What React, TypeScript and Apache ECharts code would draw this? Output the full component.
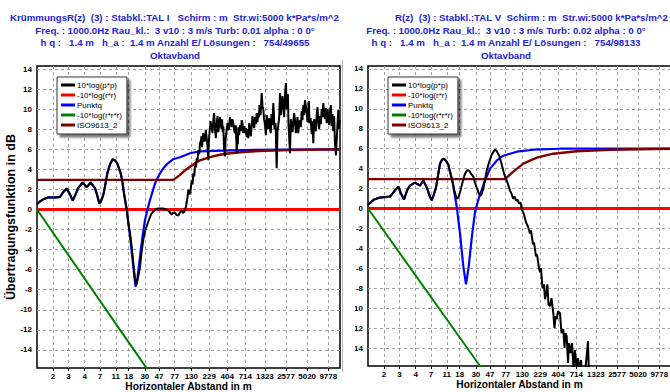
import React, { useEffect, useRef } from "react";
import * as echarts from "echarts";

type Pt = [number, number];

// ---------- axis data ----------
const X_TICK_LABELS = ["2", "3", "4", "7", "11", "18", "30", "47", "77", "130", "229", "404", "714", "1323", "2577", "5020", "9778"];
// distance (m) at which each labelled tick sits
const X_TICK_DIST = [1.66, 2.7, 4.5, 7.3, 12, 18, 30, 47, 77, 130, 229, 404, 714, 1323, 2577, 5020, 9778];
const Y_TICKS = [-14, -12, -10, -8, -6, -4, -2, 0, 2, 4, 6, 8, 10, 12, 14];
const X_RANGE = [1, 14140];
const Y_RANGE = [-15.8, 14.3];

const SERIES_NAMES = ["10*log(p*p)", "-10*log(r*r)", "Punktq", "-10*log(r*r*r)", "ISO9613_2"];
const SERIES_COLORS = ["#000000", "#ff0000", "#0000ff", "#008000", "#800000"];

const LEFT_TITLE = [
  "KrümmungsR(z)  (3) : Stabkl.:TAL I   Schirm : m  Str.wi:5000 k*Pa*s/m^2",
  "Freq. : 1000.0Hz Rau_kl.:  3 v10 : 3 m/s Turb: 0.01 alpha : 0 0°",
  "h q :   1.4 m   h_a :  1.4 m Anzahl E/ Lösungen :   754/49655",
  "Oktavband",
];
const RIGHT_TITLE = [
  "R(z)  (3) : Stabkl.:TAL V  Schirm : m  Str.wi:5000 k*Pa*s/m^2",
  "Freq. : 1000.0Hz Rau_kl.:  3 v10 : 3 m/s Turb: 0.02 alpha : 0 0°",
  "h q :   1.4 m   h_a :  1.4 m Anzahl E/ Lösungen :   754/98133",
  "Oktavband",
];

// ---------- left chart series: [distance m, dB] ----------
const LEFT_PP: Pt[] = [
  [1, 0.55], [1.1, 0.8], [1.247, 1.05], [1.415, 1.2], [1.605, 1.2], [1.822, 1.2], [2.066, 1.25], [2.271, 1.7],
  [2.552, 2.1], [2.788, 1.6], [3.084, 0.9], [3.369, 1.5], [3.645, 2.1], [4.227, 2.7], [4.795, 2.2], [5.439, 2.7],
  [6.23, 2.1], [6.636, 1.5], [7.131, 0.6], [7.524, 0.8], [8.089, 1.45], [8.54, 2.3], [9.182, 3.6], [10, 4.5],
  [10.89, 5.0], [11.71, 4.9], [12.59, 4.6], [14.02, 3.6], [14.83, 2.7], [15.55, 1.6], [16.93, 0], [17.92, -1.5],
  [18.79, -2.4], [20.01, -4.0], [20.98, -5.5], [22.0, -7.0], [23.07, -7.5], [23.8, -7.0], [24.96, -6.3], [25.76, -5.7],
  [27.01, -4.3], [28.58, -3.0], [30.64, -2.0], [33.47, -1.2], [36.44, -0.5], [39.18, -0.2], [42.67, 0.05], [45.87, 0.1],
  [49.95, 0.1], [53.7, 0.1], [58.49, 0.0], [62.88, -0.1], [66.35, -0.3], [70.01, -0.5], [74.09, -0.3], [77.68, -0.35],
  [81.96, -0.55], [86.19, -0.6], [90.95, -0.3], [95.96, -0.1], [99.97, -0.35], [104.8, -0.2], [109.9, 0.3], [115.2, 1.2],
  [118.2, 1.95], [122.0, 1.5], [125.9, 1.7], [131.6, 2.9], [134.9, 2.5], [138.4, 3.6], [142.4, 3.3], [146, 4.4],
  [150.7, 4.2], [154, 5.1], [158, 4.9], [162, 5.9], [166.6, 5.5], [170.9, 6.6], [176.4, 6.9], [179, 7.3],
  [182, 6.2], [186, 7.0], [189.6, 7.6], [195, 6.8], [200.1, 6.9], [205, 7.9], [209.8, 7.3], [216, 6.4],
  [222, 4.9], [225.5, 6.6], [229.2, 7.4], [238, 8.8], [247.2, 8.2], [253.5, 7.6], [260, 8.9], [267, 9.6],
  [274.3, 8.0], [281.8, 7.1], [289.4, 8.5], [296.8, 9.3], [304.4, 7.7], [312.6, 8.4], [321.1, 9.2], [328.8, 8.5],
  [336.7, 8.0], [343, 9.0], [349.6, 7.7], [357, 8.3], [364.3, 6.2], [376, 5.3], [382, 6.8], [388.1, 7.4],
  [397.4, 8.0], [406.8, 8.6], [423, 7.9], [440.2, 9.2], [450.8, 8.7], [461.6, 8.2], [474.8, 9.0], [488.4, 8.6],
  [501.7, 7.9], [515.4, 7.6], [529.4, 8.4], [543.8, 5.6], [557.7, 7.2], [564.8, 6.5], [571.9, 8.2], [587.5, 7.4],
  [603.4, 8.4], [619.8, 7.8], [636.6, 8.9], [652.8, 8.6], [669.5, 7.6], [687.7, 8.3], [706.5, 7.6], [725.7, 8.1],
  [745.4, 7.2], [764.4, 8.0], [783.9, 7.1], [805.3, 8.6], [827.2, 7.8], [849.7, 7.3], [872.8, 8.4], [895, 9.3],
  [917.9, 8.6], [943, 8.1], [968.5, 9.2], [995, 8.5], [1022, 9.6], [1048, 8.7], [1075, 9.6], [1095, 9.2],
  [1116, 10.4], [1155, 9.4], [1196, 11.6], [1227, 10.3], [1258, 10.0], [1292, 9.0], [1328, 8.4], [1364, 7.4],
  [1401, 9.4], [1437, 8.9], [1474, 8.0], [1513, 9.1], [1554, 8.1], [1591, 7.6], [1629, 9.5], [1676, 8.4],
  [1724, 10.6], [1757, 9.6], [1791, 8.0], [1854, 8.6], [1920, 4.1], [1969, 7.8], [2019, 8.4], [2074, 9.1],
  [2131, 11.6], [2189, 9.4], [2248, 10.8], [2306, 11.3], [2365, 10.0], [2429, 9.2], [2495, 11.5], [2575, 12.6],
  [2628, 10.0], [2683, 11.0], [2734, 11.5], [2786, 8.5], [2921, 5.6], [3000, 9.0], [3082, 8.5], [3161, 7.7],
  [3241, 8.6], [3329, 9.6], [3420, 8.9], [3513, 7.6], [3608, 8.4], [3700, 9.2], [3795, 7.6], [3898, 8.6],
  [4004, 8.9], [4113, 8.2], [4225, 9.8], [4333, 8.9], [4443, 10.4], [4564, 9.4], [4688, 10.9], [4815, 10.3],
  [4946, 9.6], [5072, 8.7], [5202, 10.1], [5301, 10.8], [5403, 8.6], [5594, 9.1], [5791, 7.5], [5939, 8.8],
  [6091, 6.6], [6256, 9.0], [6427, 8.2], [6601, 7.8], [6781, 9.4], [6954, 10.2], [7131, 8.8], [7325, 8.0],
  [7524, 9.3], [7728, 8.5], [7938, 10.0], [8141, 9.2], [8349, 10.6], [8576, 9.5], [8810, 9.0], [9049, 10.1],
  [9295, 8.6], [9532, 10.0], [9776, 9.2], [10042, 8.4], [10315, 9.8], [10595, 10.4], [10883, 8.3], [11161, 9.5],
  [11446, 7.8], [11757, 9.3], [12077, 6.5], [12464, 5.4], [12762, 7.0], [13067, 8.5], [13401, 9.9], [13592, 8.0],
  [13787, 8.9], [14140, 8.6],
];
const LEFT_RR: Pt[] = [[1, 0], [14140, 0]];
const LEFT_PUNKTQ: Pt[] = [
  [1, 0.55], [1.1, 0.8], [1.247, 1.05], [1.415, 1.2], [1.605, 1.2], [1.822, 1.2], [2.066, 1.25], [2.271, 1.7],
  [2.552, 2.1], [2.788, 1.6], [3.084, 0.9], [3.369, 1.5], [3.645, 2.1], [4.227, 2.7], [4.795, 2.2], [5.439, 2.7],
  [6.23, 2.1], [6.636, 1.5], [7.131, 0.6], [7.524, 0.8], [8.089, 1.45], [8.54, 2.3], [9.182, 3.6], [10, 4.5],
  [10.89, 5.0], [11.71, 4.9], [12.59, 4.6], [14.02, 3.6], [14.83, 2.7], [15.55, 1.6], [16.93, 0], [18.79, -2.6],
  [20.85, -5.7], [22.35, -7.7], [23.8, -6.8], [25.76, -4.7], [27.87, -2.7], [30.16, -1.05], [32.63, 0.0], [35.31, 0.95],
  [41.34, 2.6], [48.4, 3.6], [53.7, 4.1], [62, 4.6], [72.93, 5.0], [90.95, 5.2], [124.7, 5.6], [170.9, 5.8],
  [440.2, 5.9], [2131, 5.97], [14140, 6.0],
];
const LEFT_RRR: Pt[] = [[1, 0], [13.71, -12], [35.31, -16.3]];
const LEFT_ISO: Pt[] = [
  [1, 2.95], [73.6, 2.95], [80.17, 3.15], [90.95, 3.45], [106.5, 3.9], [124.7, 4.25], [146, 4.6], [170.9, 4.9],
  [206.5, 5.1], [257.5, 5.3], [321.1, 5.45], [440.2, 5.6], [745.4, 5.75], [1328, 5.85], [2921, 5.93], [14140, 6.0],
];

// ---------- right chart series ----------
const RIGHT_PP: Pt[] = [
  [1, 0.4], [1.208, 0.9], [1.46, 1.1], [1.71, 1.15], [2.002, 1.2], [2.271, 1.7], [2.601, 2.2], [2.832, 1.5],
  [3.113, 0.9], [3.422, 1.8], [3.761, 2.3], [4.404, 2.6], [5.155, 2.3], [5.721, 2.8], [6.492, 2.0], [6.953, 1.3],
  [7.453, 0.9], [7.888, 1.3], [8.54, 2.1], [9.096, 3.3], [9.69, 4.5], [10.32, 4.9], [10.99, 5.0], [11.71, 4.8],
  [12.59, 4.4], [13.5, 3.5], [14.47, 2.6], [15.31, 1.7], [16.41, 1.0], [17.37, 1.1], [18.61, 1.9], [20.01, 2.8],
  [21.32, 3.5], [22.71, 3.85], [24.41, 3.8], [25.76, 3.5], [27.7, 3.2], [29.22, 2.6], [30.83, 2.1], [32.63, 1.6],
  [34.21, 1.3], [35.87, 1.4], [37.96, 2.0], [40.06, 2.9], [42.26, 3.8], [45.44, 4.6], [49.48, 5.4], [52.37, 5.7],
  [54.91, 5.9], [57.57, 5.8], [62.88, 5.3], [66.35, 4.7], [71.34, 3.8], [75.27, 3.2], [79.41, 2.8], [84.05, 2.3],
  [88.12, 1.8], [92.4, 1.5], [96.87, 1.0], [101.6, 1.2], [106.5, 0.8], [111.7, 0.9], [117.1, 0.5], [122.7, 0.6],
  [128.7, -0.1], [137.1, -0.6], [146, -1.4], [155.5, -1.8], [165.6, -2.5], [170.9, -2.2], [182, -3.6], [187.9, -3.4],
  [200.1, -4.8], [206.5, -4.6], [220, -6.0], [227, -6.4], [234.3, -6.0], [245.7, -8.0], [257.5, -7.6], [265.8, -9.1],
  [278.7, -8.4], [285.8, -7.6], [296.8, -9.6], [311.1, -9.8], [326.2, -9.0], [345.3, -10.5], [358.6, -12.0], [370.1, -10.8],
  [384.4, -11.1], [400.5, -10.3], [426.5, -10.5], [447.2, -12.5], [473.3, -12.1], [491.6, -14.0], [507.3, -12.5], [526.9, -12.8],
  [549, -15.5], [566.5, -13.5], [593.9, -14.5], [622.7, -13.5], [652.9, -16], [684.5, -14.2], [717.7, -16], [752.5, -15],
  [788.9, -16.5], [827.2, -15.2], [853.7, -16.5], [909.3, -17], [968.5, -15.5], [1031.5, -13.3], [1064.6, -17], [1134, -18],
];
const RIGHT_RR: Pt[] = [[1, 0], [14140, 0]];
const RIGHT_PUNKTQ: Pt[] = [
  [1, 0.4], [1.208, 0.9], [1.46, 1.1], [1.71, 1.15], [2.002, 1.2], [2.271, 1.7], [2.601, 2.2], [2.832, 1.5],
  [3.113, 0.9], [3.422, 1.8], [3.761, 2.3], [4.404, 2.6], [5.155, 2.3], [5.721, 2.8], [6.492, 2.0], [6.953, 1.3],
  [7.453, 0.8], [7.888, 1.3], [8.54, 2.1], [9.096, 3.3], [9.69, 4.5], [10.32, 4.9], [10.99, 5.0], [11.71, 4.8],
  [12.59, 4.4], [13.5, 3.5], [14.47, 2.6], [16.41, 0.2], [18.21, -2.5], [20.2, -5.8], [22.0, -7.6], [23.96, -5.8],
  [26.33, -3.0], [29.22, -0.3], [33.47, 1.2], [40.06, 2.8], [46.9, 4.0], [57.93, 4.8], [71.34, 5.3], [108.9, 5.7],
  [183.8, 5.9], [426.5, 6.0], [14140, 6.0],
];
const RIGHT_RRR: Pt[] = [[1, 0], [34.21, -15.8], [40, -16.5]];
const RIGHT_ISO: Pt[] = [
  [1, 2.95], [75.27, 2.95], [97.8, 3.7], [134.1, 4.5], [204.6, 5.1], [345.3, 5.5], [722.3, 5.75], [2065, 5.9], [14140, 6.0],
];

// ---------- option builder ----------
const FONT = '"Liberation Sans", Arial, sans-serif';
const TITLE_COLOR = "#2424d8";
const lg = (d: number) => Math.log10(d);

type Cfg = {
  gridLeft: number;
  plotH: number;
  data: Pt[][];
  title: string[];
  line1X: number;
  titleX: number;
  legendLeft: number;
  yName: string;
  xNameGap: number;
  extra: any[];
};

function buildOption(c: Cfg) {
  const xTicks = X_TICK_DIST.map(lg);
  const labelFor = (v: number) => {
    const i = xTicks.findIndex((t) => Math.abs(t - v) < 1e-6);
    return i >= 0 ? X_TICK_LABELS[i] : "";
  };
  const titleG = c.title.map((t, i) => ({
    type: "text",
    x: i === 0 ? c.line1X : c.titleX,
    y: 17.5 + i * 12.5,
    silent: true,
    style: {
      text: t,
      font: `bold 9.7px ${FONT}`,
      fill: TITLE_COLOR,
      align: i === 0 ? "left" : "center",
      verticalAlign: "middle",
    },
  }));
  const widths = [2, 3, 2.2, 2, 2.4];
  const zs = [7, 3, 5, 4, 6];
  return {
    animation: false,
    backgroundColor: "#ffffff",
    graphic: [...titleG, ...c.extra],
    legend: {
      data: SERIES_NAMES,
      orient: "vertical",
      left: c.legendLeft,
      top: 77,
      icon: "rect",
      itemWidth: 14,
      itemHeight: 3,
      itemGap: 0,
      padding: [3, 5, 4, 4],
      backgroundColor: "#ffffff",
      borderColor: "#333333",
      borderWidth: 1,
      shadowColor: "rgba(0,0,0,0.55)",
      shadowBlur: 2,
      shadowOffsetX: 3,
      shadowOffsetY: 3,
      selectedMode: false,
      textStyle: { fontSize: 8, fontFamily: FONT, color: "#000", lineHeight: 10, padding: [0, 0, 0, -3] },
    },
    grid: {
      left: c.gridLeft,
      top: 66,
      width: 303,
      height: c.plotH,
      show: true,
      borderColor: "#000",
      borderWidth: 1.5,
      backgroundColor: "transparent",
      containLabel: false,
      outerBoundsMode: "none",
    },
    xAxis: {
      type: "value",
      min: lg(X_RANGE[0]),
      max: lg(X_RANGE[1]),
      axisLine: { show: false, onZero: false },
      axisTick: { show: true, customValues: xTicks, length: 3, lineStyle: { color: "#000" } },
      axisLabel: {
        customValues: xTicks,
        formatter: (v: number) => labelFor(v),
        fontSize: 8,
        fontWeight: "bold",
        fontFamily: FONT,
        color: "#000",
        margin: 4,
      },
      splitLine: { show: true, lineStyle: { color: "#a0a0a0", type: [3, 3], width: 1 } },
      name: "Horizontaler Abstand in m",
      nameLocation: "middle",
      nameGap: c.xNameGap,
      nameMoveOverlap: false,
      nameTextStyle: {
        fontSize: 10.2,
        fontWeight: "bold",
        fontFamily: FONT,
        color: "#000",
        verticalAlign: "top",
        lineHeight: 11,
      },
    },
    yAxis: {
      type: "value",
      min: Y_RANGE[0],
      max: Y_RANGE[1],
      axisLine: { show: false },
      axisTick: { show: false, customValues: Y_TICKS },
      axisLabel: { customValues: Y_TICKS, fontSize: 8, fontWeight: "bold", fontFamily: FONT, color: "#000", margin: 5 },
      splitLine: { show: true, lineStyle: { color: "#a0a0a0", type: [3, 3], width: 1 } },
      name: c.yName,
      nameLocation: "middle",
      nameGap: 19,
      nameMoveOverlap: false,
      nameTextStyle: { fontSize: 12.5, fontWeight: "bold", fontFamily: FONT, color: "#000", lineHeight: 14 },
    },
    series: SERIES_NAMES.map((n, i) => ({
      name: n,
      type: "line",
      showSymbol: false,
      symbol: "none",
      z: zs[i],
      clip: true,
      data: c.data[i].map(([d, v]) => [lg(d), v]),
      lineStyle: { color: SERIES_COLORS[i], width: widths[i], opacity: 1 },
      itemStyle: { color: SERIES_COLORS[i] },
    })),
  };
}

function Chart({ option, width, height }: { option: any; width: number; height: number }) {
  const ref = useRef<HTMLDivElement>(null);
  useEffect(() => {
    if (!ref.current) return;
    const chart = echarts.init(ref.current, undefined, { renderer: "svg" });
    chart.setOption(option);
    return () => chart.dispose();
  }, [option]);
  return <div ref={ref} style={{ width, height }} />;
}

const RIGHT_OFFSET = 355;

const leftOption = buildOption({
  gridLeft: 37,
  plotH: 302,
  data: [LEFT_PP, LEFT_RR, LEFT_PUNKTQ, LEFT_RRR, LEFT_ISO],
  title: LEFT_TITLE,
  line1X: 10,
  titleX: 175,
  legendLeft: 57,
  yName: "Übertragungsfunktion in dB",
  xNameGap: 13,
  extra: [
    {
      type: "line",
      silent: true,
      shape: { x1: 342.5, y1: 60, x2: 342.5, y2: 372 },
      style: { stroke: "#b4b4b4", lineWidth: 1 },
    },
  ],
});

const rightOption = buildOption({
  gridLeft: 368 - RIGHT_OFFSET,
  plotH: 300,
  data: [RIGHT_PP, RIGHT_RR, RIGHT_PUNKTQ, RIGHT_RRR, RIGHT_ISO],
  title: RIGHT_TITLE,
  line1X: 395 - RIGHT_OFFSET,
  titleX: 506 - RIGHT_OFFSET,
  legendLeft: 388 - RIGHT_OFFSET,
  yName: "",
  xNameGap: 13,
  extra: [],
});

export default function App() {
  return (
    <div style={{ position: "fixed", left: 0, top: 0, width: 670, height: 392, background: "#fff", overflow: "hidden" }}>
      <div style={{ position: "absolute", left: 0, top: 0, width: 343, height: 392, overflow: "hidden" }}>
        <Chart option={leftOption} width={343} height={392} />
      </div>
      <div style={{ position: "absolute", left: RIGHT_OFFSET, top: 0, width: 670 - RIGHT_OFFSET, height: 392, overflow: "hidden" }}>
        <Chart option={rightOption} width={670 - RIGHT_OFFSET} height={392} />
      </div>
    </div>
  );
}
